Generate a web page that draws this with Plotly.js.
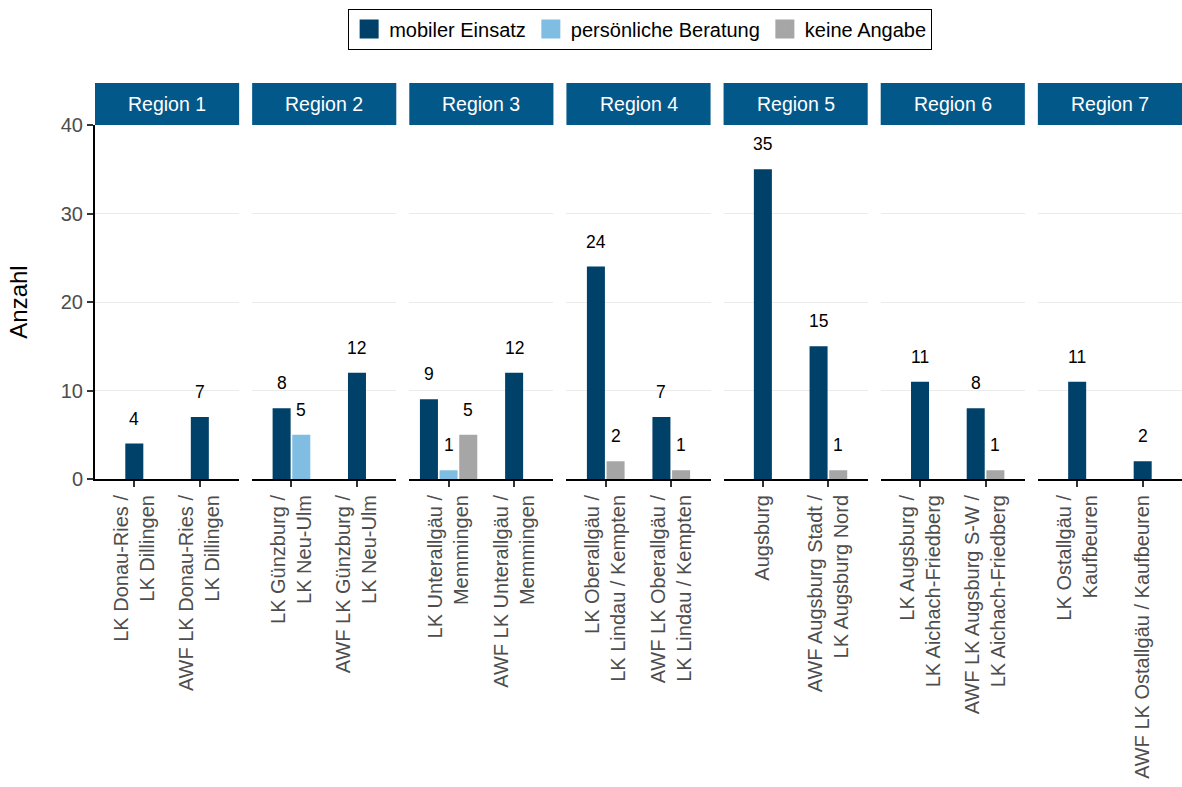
<!DOCTYPE html>
<html><head><meta charset="utf-8">
<script src="https://cdn.plot.ly/plotly-3.0.1.min.js"></script>
<style>html,body{margin:0;padding:0;background:#fff;}</style>
</head><body><div id="chart" style="width:1182px;height:787px;"></div>
<script>
// ---- data ----
const regions = ["Region 1", "Region 2", "Region 3", "Region 4", "Region 5", "Region 6", "Region 7"];
const standortRegion = [0, 0, 1, 1, 2, 2, 3, 3, 4, 4, 5, 5, 6, 6];
const standorte = [
  "LK Donau-Ries /<br>LK Dillingen", "AWF LK Donau-Ries /<br>LK Dillingen",
  "LK Günzburg /<br>LK Neu-Ulm", "AWF LK Günzburg /<br>LK Neu-Ulm",
  "LK Unterallgäu /<br>Memmingen", "AWF LK Unterallgäu /<br>Memmingen",
  "LK Oberallgäu /<br>LK Lindau / Kempten", "AWF LK Oberallgäu /<br>LK Lindau / Kempten",
  "Augsburg", "AWF Augsburg Stadt /<br>LK Augsburg Nord",
  "LK Augsburg /<br>LK Aichach-Friedberg", "AWF LK Augsburg S-W /<br>LK Aichach-Friedberg",
  "LK Ostallgäu /<br>Kaufbeuren", "AWF LK Ostallgäu / Kaufbeuren"
];
const seriesNames = ["mobiler Einsatz", "persönliche Beratung", "keine Angabe"];
const mobilerEinsatz       = [4, 7, 8, 12, 9, 12, 24, 7, 35, 15, 11, 8, 11, 2];
const persoenlicheBeratung = [0, 0, 5, 0, 1, 0, 0, 0, 0, 0, 0, 0, 0, 0];
const keineAngabe          = [0, 0, 0, 0, 5, 0, 2, 1, 0, 1, 0, 1, 0, 0];
const yTicks = [0, 10, 20, 30, 40];

// ---- styling / layout ----
const seriesValues = [mobilerEinsatz, persoenlicheBeratung, keineAngabe];
const seriesColors = ["#00416A", "#7FBEE2", "#A6A6A6"];
const FONT = "Liberation Sans, Arial, Helvetica, sans-serif";
const W = 1182, H = 787, mL = 95, mR = 0, mT = 125, mB = 308;
const plotW = W - mL - mR, plotH = H - mT - mB;
const gapPx = 13;
const panelW = (plotW - gapPx * (regions.length - 1)) / regions.length;
const slot = 0.3, barW = 0.275;

const traces = [], annotations = [], shapes = [];
const layout = {
  width: W, height: H,
  margin: {l: mL, r: mR, t: mT, b: mB},
  paper_bgcolor: "#fff", plot_bgcolor: "#fff",
  font: {family: FONT, size: 20, color: "#000"},
  barmode: "overlay",
  showlegend: true,
  legend: {
    orientation: "h", x: 0.5015, xanchor: "center",
    y: 1 + (mT - 29) / plotH, yanchor: "middle",
    bordercolor: "#000", borderwidth: 1,
    font: {family: FONT, size: 20, color: "#000"},
    traceorder: "normal", itemclick: false, itemdoubleclick: false
  },
  annotations: annotations,
  shapes: shapes
};

regions.forEach((reg, r) => {
  const sfx = r === 0 ? "" : String(r + 1);
  const idxs = standorte.map((s, i) => i).filter(i => standortRegion[i] === r);
  const cats = idxs.map(i => standorte[i]);
  const present = idxs.map(i => seriesValues.map(v => v[i] > 0));

  seriesNames.forEach((name, s) => {
    const xs = [], ys = [], offs = [];
    idxs.forEach((i, k) => {
      const v = seriesValues[s][i];
      if (!(v > 0)) return;
      const pres = present[k].map((p, j) => p ? j : -1).filter(j => j >= 0);
      const n = pres.length, pos = pres.indexOf(s);
      const center = (pos - (n - 1) / 2) * slot;
      xs.push(cats[k]); ys.push(v); offs.push(center - barW / 2);
      annotations.push({
        xref: "x" + sfx, yref: "y" + sfx, x: k + center, y: v,
        text: String(v), showarrow: false, xanchor: "center", yanchor: "middle", yshift: 25,
        font: {family: FONT, size: 17.5, color: "#000"}
      });
    });
    traces.push({
      type: "bar", name: name, x: xs, y: ys, offset: offs, width: barW,
      xaxis: "x" + sfx, yaxis: "y" + sfx,
      marker: {color: seriesColors[s], line: {width: 0}},
      legendgroup: name, showlegend: false,
      hovertemplate: "%{x}: %{y}<extra>" + name + "</extra>"
    });
  });

  const x0 = r * (panelW + gapPx) / plotW;
  const x1 = (r * (panelW + gapPx) + panelW) / plotW;
  layout["xaxis" + sfx] = {
    domain: [x0, Math.min(1, x1)], anchor: "y" + sfx,
    type: "category", categoryorder: "array", categoryarray: cats,
    range: [-0.6, 1.6], fixedrange: true,
    showline: true, linecolor: "#000", linewidth: 2,
    ticks: "outside", ticklen: 6, tickwidth: 2, tickcolor: "#333",
    tickangle: -90, tickfont: {family: FONT, size: 20, color: "#4D4D4D"},
    showgrid: false, zeroline: false
  };
  const yax = {
    domain: [0, 1], anchor: "x" + sfx, range: [0, 40], fixedrange: true,
    tickmode: "array", tickvals: yTicks,
    showgrid: true, gridcolor: "#EBEBEB", gridwidth: 1, zeroline: false,
    showline: r === 0, linecolor: "#000", linewidth: 2,
    ticks: r === 0 ? "outside" : "", ticklen: 6, tickwidth: 2, tickcolor: "#333",
    showticklabels: r === 0,
    tickfont: {family: FONT, size: 20, color: "#4D4D4D"}
  };
  if (r === 0) {
    yax.title = {text: "Anzahl", font: {family: FONT, size: 24, color: "#000"}, standoff: 26};
  } else {
    yax.matches = "y";
  }
  layout["yaxis" + sfx] = yax;

  shapes.push({
    type: "rect", xref: "x" + sfx + " domain", yref: "paper",
    x0: 0, x1: 1, y0: 1, y1: 1 + 42 / plotH,
    fillcolor: "#03588A", line: {width: 0}, layer: "above"
  });
  annotations.push({
    xref: "x" + sfx + " domain", yref: "paper", x: 0.5, y: 1 + 21 / plotH,
    text: reg, showarrow: false, xanchor: "center", yanchor: "middle",
    font: {family: FONT, size: 19.5, color: "#fff"}
  });
});

// legend keys (square swatches like the reference)
seriesNames.forEach((name, s) => {
  traces.push({
    type: "scatter", mode: "markers", name: name, x: [null], y: [null],
    xaxis: "x", yaxis: "y", legendgroup: name, showlegend: true, hoverinfo: "skip",
    marker: {symbol: "square", size: 16, color: seriesColors[s], line: {color: seriesColors[s], width: 3}}
  });
});

Plotly.newPlot("chart", traces, layout, {displayModeBar: false, responsive: false});
</script>
</body></html>
